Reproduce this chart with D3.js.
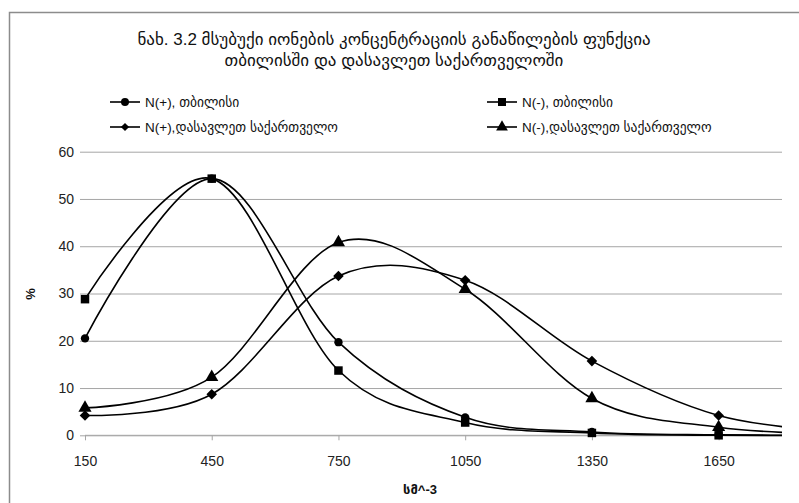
<!DOCTYPE html>
<html><head><meta charset="utf-8">
<script src="https://cdn.jsdelivr.net/npm/d3@7/dist/d3.min.js"></script>
<style>body{margin:0;background:#fff}svg{display:block}</style>
</head><body>
<script>
const xValues = [150, 450, 750, 1050, 1350, 1650, 1950];
const nPlusTbilisi = [20.5, 54.3, 19.7, 3.8, 0.7, 0.1, 0.0];
const nMinusTbilisi = [28.8, 54.3, 13.7, 2.7, 0.5, 0.0, 0.0];
const nPlusWest = [4.2, 8.7, 33.7, 32.8, 15.7, 4.2, 0.6];
const nMinusWest = [5.8, 12.3, 40.8, 30.9, 7.8, 1.7, 0.2];
const xTicks = [150, 450, 750, 1050, 1350, 1650];
const yTicks = [0, 10, 20, 30, 40, 50, 60];
const titleLines = ["ნახ. 3.2  მსუბუქი იონების კონცენტრაციის განაწილების ფუნქცია", "თბილისში და დასავლეთ საქართველოში"];
const seriesNames = ["N(+), თბილისი", "N(-), თბილისი", "N(+),დასავლეთ საქართველო", "N(-),დასავლეთ საქართველო"];
const xTitle = "სმ^-3";
const yTitle = "%";

const W = 799, H = 503;
const svg = d3.select("body").append("svg").attr("width", W).attr("height", H);
const font = "'Liberation Sans','DejaVu Sans',sans-serif";

svg.append("path").attr("d", `M9.5,${H}V12.5H${W}`).attr("fill", "none").attr("stroke", "#8c8c8c").attr("stroke-width", 1.5);

const x = d3.scaleLinear().domain([150, 1800]).range([85, 782]);
const y = d3.scaleLinear().domain([0, 60]).range([435.3, 151.7]);

svg.append("defs").append("clipPath").attr("id", "clip")
  .append("rect").attr("x", 78).attr("y", 140).attr("width", 704).attr("height", 303);

const gy = svg.append("g").attr("transform", "translate(85,0)")
  .call(d3.axisLeft(y).tickValues(yTicks).tickSize(-(782 - 85)).tickPadding(11).tickFormat(d3.format("d")));
gy.select(".domain").remove();
gy.selectAll(".tick line").attr("stroke", "#a6a6a6").attr("stroke-width", 1);
gy.selectAll(".tick line").clone().attr("x1", 0).attr("x2", -5);
gy.selectAll("text").attr("font-family", font).attr("font-size", 14).attr("fill", "#222");

const gx = svg.append("g").attr("transform", `translate(0,${y(0)})`)
  .call(d3.axisBottom(x).tickValues(xTicks).tickSize(5).tickPadding(16).tickFormat(d3.format("d")));
gx.select(".domain").attr("stroke", "#a6a6a6").attr("d", `M85,0H782`);
gx.selectAll(".tick line").attr("stroke", "#a6a6a6");
gx.selectAll("text").attr("font-family", font).attr("font-size", 14).attr("fill", "#222");

const diamond = { draw(ctx, size) { const r = Math.sqrt(size / 2); ctx.moveTo(0, -r); ctx.lineTo(r, 0); ctx.lineTo(0, r); ctx.lineTo(-r, 0); ctx.closePath(); } };
const series = [
  {vals: nPlusTbilisi, sym: d3.symbolCircle, size: 55, lsize: 50},
  {vals: nMinusTbilisi, sym: d3.symbolSquare, size: 72, lsize: 64},
  {vals: nPlusWest, sym: diamond, size: 56, lsize: 34},
  {vals: nMinusWest, sym: d3.symbolTriangle, size: 75, lsize: 60}
];
const line = d3.line().x(d => x(d[0])).y(d => y(d[1])).curve(d3.curveCardinal.tension(0));
const plot = svg.append("g").attr("clip-path", "url(#clip)");
series.forEach(s => {
  const pts = xValues.map((v, i) => [v, s.vals[i]]);
  plot.append("path").attr("d", line(pts)).attr("fill", "none").attr("stroke", "#000").attr("stroke-width", 1.6);
  plot.selectAll(null).data(pts).enter().append("path")
    .attr("transform", d => `translate(${x(d[0])},${y(d[1])})`)
    .attr("d", d3.symbol().type(s.sym).size(s.size)).attr("fill", "#000");
});

svg.append("g").selectAll("text").data(titleLines).enter().append("text")
  .attr("x", 394).attr("y", (d, i) => 45 + i * 21).attr("text-anchor", "middle")
  .attr("font-family", font).attr("font-size", 17).attr("fill", "#111").text(d => d);

const legendPos = [[110, 102], [487, 102], [110, 127], [487, 127]];
series.forEach((s, i) => {
  const [lx, ly] = legendPos[i];
  svg.append("line").attr("x1", lx).attr("x2", lx + 30).attr("y1", ly).attr("y2", ly).attr("stroke", "#000").attr("stroke-width", 1.6);
  svg.append("path").attr("transform", `translate(${lx + 15},${ly})`).attr("d", d3.symbol().type(s.sym).size(s.lsize)).attr("fill", "#000");
  svg.append("text").attr("x", lx + 35).attr("y", ly + 5).attr("font-family", font).attr("font-size", 13.5).attr("fill", "#111").text(seriesNames[i]);
});

svg.append("text").attr("x", 420).attr("y", 494).attr("text-anchor", "middle").attr("font-family", font)
  .attr("font-size", 13).attr("font-weight", "bold").attr("fill", "#111").text(xTitle);
svg.append("text").attr("transform", "translate(35,294) rotate(-90)").attr("text-anchor", "middle").attr("font-family", font)
  .attr("font-size", 13).attr("font-weight", "bold").attr("fill", "#111").text(yTitle);
</script>
</body></html>
